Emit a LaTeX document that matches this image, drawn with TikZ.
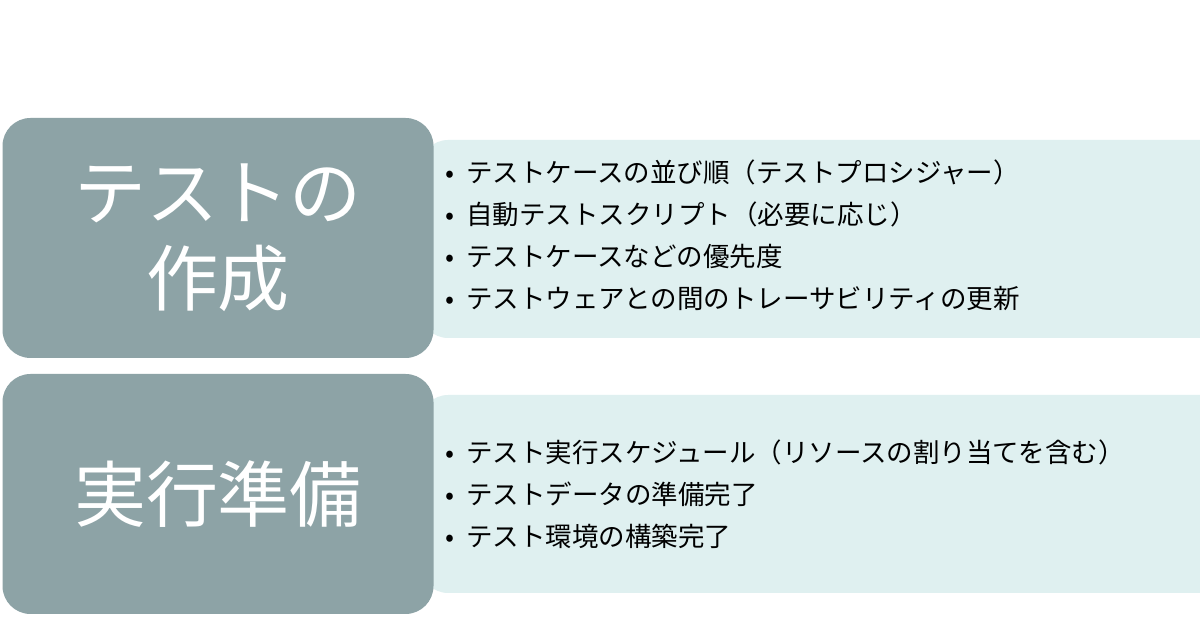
\documentclass[tikz,border=0pt]{standalone}
\usepackage{fontspec}
\setmainfont{Noto Sans CJK JP}
\usetikzlibrary{positioning}
\definecolor{headfill}{HTML}{8DA3A6}
\definecolor{listfill}{HTML}{DFF0F0}
\tikzset{
  headbox/.style={fill=headfill, rounded corners=28pt, minimum width=431pt, minimum height=240pt,
    text=white, font=\fontsize{72}{86}\selectfont, align=center, inner sep=0pt},
  listbox/.style={fill=listfill, rounded corners=28pt, minimum width=820pt, minimum height=198pt, anchor=west, inner sep=0pt},
  itemtext/.style={anchor=west, font=\fontsize{26.5}{30}\selectfont, inner sep=0pt},
}
\begin{document}
\begin{tikzpicture}[x=1pt,y=1pt]
	\useasboundingbox[fill=white] (0,0) rectangle (1200,628);
	
	% first block
	\node[listbox] (list1) at (420,389) {};
	\node[headbox] (head1) at (218,390) {テストの\\作成};
	\node[itemtext] (a1) at (445,456) {• \ テストケースの並び順（テストプロシジャー）};
	\node[itemtext, below = 17pt of a1.south west, anchor=north west] (a2) {• \ 自動テストスクリプト（必要に応じ）};
	\node[itemtext, below = 17pt of a2.south west, anchor=north west] (a3) {• \ テストケースなどの優先度};
	\node[itemtext, below = 17pt of a3.south west, anchor=north west] (a4) {• \ テストウェアとの間のトレーサビリティの更新};
	
	% second block
	\node[listbox] (list2) at (420,134) {};
	\node[headbox] (head2) at (218,134) {実行準備};
	\node[itemtext] (b1) at (445,176) {• \ テスト実行スケジュール（リソースの割り当てを含む）};
	\node[itemtext, below = 17pt of b1.south west, anchor=north west] (b2) {• \ テストデータの準備完了};
	\node[itemtext, below = 17pt of b2.south west, anchor=north west] (b3) {• \ テスト環境の構築完了};
\end{tikzpicture}
\end{document}
